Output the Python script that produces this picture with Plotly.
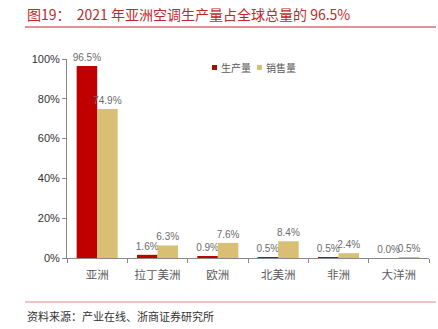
import plotly.graph_objects as go

categories = ["亚洲", "拉丁美洲", "欧洲", "北美洲", "非洲", "大洋洲"]
production = [0.965, 0.016, 0.009, 0.005, 0.005, 0.000]
sales = [0.749, 0.063, 0.076, 0.084, 0.024, 0.005]
series_names = ["生产量", "销售量"]
series_colors = ["#C00000", "#D9BF73"]
title_text = "图19：  2021 年亚洲空调生产量占全球总量的 96.5%"
source_text = "资料来源：产业在线、浙商证券研究所"

W, H = 438, 329
L, R, T, B = 67, 9, 59, 71
pw, ph = W - L - R, H - T - B

def px(x):
    return (x - L) / pw

def py(y):
    return (H - B - y) / ph

font_cjk = "Noto Sans CJK SC, Noto Sans, sans-serif"

fig = go.Figure()
for name, vals, color in zip(series_names, [production, sales], series_colors):
    fig.add_trace(go.Bar(
        x=categories, y=vals, name=name, marker_color=color,
        marker_line_width=0,
        text=[f"{v*100:.1f}%" for v in vals], textposition="outside",
        constraintext="none",
        textfont=dict(size=10, color="#6b6b6b", family="Liberation Sans, Arial, sans-serif"),
        cliponaxis=False,
    ))

fig.update_layout(
    width=W, height=H, margin=dict(l=L, r=R, t=T, b=B),
    paper_bgcolor="white", plot_bgcolor="white",
    barmode="group", bargap=0.32, bargroupgap=0,
    font=dict(family=font_cjk, color="#333"),
    showlegend=False,
    xaxis=dict(type="category", showline=True, linecolor="#888", linewidth=1,
               ticks="outside", tickson="boundaries", ticklen=4, tickcolor="#888",
               ticklabelstandoff=6,
               tickfont=dict(size=11.5, color="#595959", family=font_cjk),
               showgrid=False),
    yaxis=dict(range=[0, 1], dtick=0.2, tickformat=".0%", showline=True, linecolor="#888",
               linewidth=1, ticks="outside", ticklen=4, tickcolor="#888",
               tickfont=dict(size=11, color="#333", family="Liberation Sans, Arial, sans-serif"),
               showgrid=False, zeroline=False),
)

# legend drawn manually (small square markers)
legend_x = [212, 257]
for lx, name, color in zip(legend_x, series_names, series_colors):
    fig.add_shape(type="rect", xref="paper", yref="paper",
                  x0=px(lx), x1=px(lx + 5), y0=py(70), y1=py(65),
                  fillcolor=color, line=dict(width=0))
    fig.add_annotation(text=name, xref="paper", yref="paper", x=px(lx + 6.5), y=py(67.5),
                       xanchor="left", yanchor="middle", showarrow=False,
                       font=dict(size=10, color="#595959", family=font_cjk))

fig.add_shape(type="line", xref="paper", yref="paper", x0=px(25), x1=px(436),
              y0=py(27), y1=py(27), line=dict(color="#C8282C", width=1))
fig.add_shape(type="line", xref="paper", yref="paper", x0=px(25), x1=px(436),
              y0=py(302), y1=py(302), line=dict(color="#E08A8A", width=1))

fig.add_annotation(text=title_text, xref="paper", yref="paper", x=px(25), y=py(14),
                   xanchor="left", yanchor="middle", showarrow=False,
                   font=dict(size=14, color="#C0282C", family=font_cjk))
fig.add_annotation(text=source_text, xref="paper", yref="paper", x=px(25), y=py(316),
                   xanchor="left", yanchor="middle", showarrow=False,
                   font=dict(size=11, color="#333", family=font_cjk))

fig.write_html("out.html")
